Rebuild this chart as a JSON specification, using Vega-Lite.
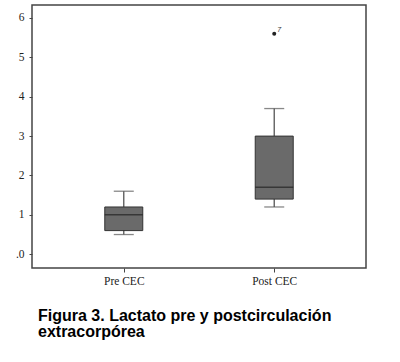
{
  "$schema": "https://vega.github.io/schema/vega-lite/v6.json",
  "width": 334,
  "height": 263,
  "autosize": "none",
  "padding": {"left": 32, "top": 5, "right": 34, "bottom": 94},
  "background": "white",
  "config": {
    "view": {"stroke": "#444444", "strokeWidth": 1.5},
    "axis": {"labelFont": "Liberation Serif", "labelFontSize": 11.5, "labelColor": "#222222", "tickColor": "#444444", "domain": false, "grid": false, "title": null}
  },
  "title": {
    "text": ["Figura 3. Lactato pre y postcirculación", "extracorpórea"],
    "orient": "bottom",
    "anchor": "start",
    "frame": "group",
    "font": "Liberation Sans",
    "fontSize": 16,
    "fontWeight": "bold",
    "color": "#000000",
    "offset": 21,
    "dx": 6,
    "lineHeight": 16
  },
  "datasets": {
    "boxes": [
      {"grupo": "Pre CEC", "lower": 0.5, "q1": 0.6, "median": 1.0, "q3": 1.2, "upper": 1.6},
      {"grupo": "Post CEC", "lower": 1.2, "q1": 1.4, "median": 1.7, "q3": 3.0, "upper": 3.7}
    ],
    "outliers": [
      {"grupo": "Post CEC", "value": 5.6, "label": "7"}
    ]
  },
  "encoding": {
    "x": {
      "field": "grupo", "type": "nominal", "sort": ["Pre CEC", "Post CEC"],
      "scale": {"type": "point", "padding": 0.61},
      "axis": {"labelAngle": 0, "tickSize": 4, "labelPadding": 3}
    }
  },
  "layer": [
    {
      "data": {"name": "boxes"},
      "mark": {"type": "rule", "color": "#555555", "strokeWidth": 1.3},
      "encoding": {
        "y": {"field": "lower", "type": "quantitative",
          "scale": {"domain": [-0.35, 6.33], "nice": false, "zero": false},
          "axis": {"values": [0, 1, 2, 3, 4, 5, 6], "labelExpr": "datum.value == 0 ? '.0' : datum.label", "tickSize": 3, "labelPadding": 5}},
        "y2": {"field": "upper"}
      }
    },
    {
      "data": {"name": "boxes"},
      "mark": {"type": "tick", "color": "#555555", "size": 20, "thickness": 1.3},
      "encoding": {"y": {"field": "lower", "type": "quantitative"}}
    },
    {
      "data": {"name": "boxes"},
      "mark": {"type": "tick", "color": "#555555", "size": 20, "thickness": 1.3},
      "encoding": {"y": {"field": "upper", "type": "quantitative"}}
    },
    {
      "data": {"name": "boxes"},
      "mark": {"type": "bar", "size": 38, "fill": "#6a6a6a", "stroke": "#333333", "strokeWidth": 1},
      "encoding": {
        "y": {"field": "q1", "type": "quantitative"},
        "y2": {"field": "q3"}
      }
    },
    {
      "data": {"name": "boxes"},
      "mark": {"type": "tick", "color": "#222222", "size": 38, "thickness": 1.5},
      "encoding": {"y": {"field": "median", "type": "quantitative"}}
    },
    {
      "data": {"name": "outliers"},
      "mark": {"type": "point", "filled": true, "color": "#222222", "size": 16, "opacity": 1},
      "encoding": {"y": {"field": "value", "type": "quantitative"}}
    },
    {
      "data": {"name": "outliers"},
      "mark": {"type": "text", "dx": 5, "dy": -4, "fontSize": 7, "fontStyle": "italic", "font": "Liberation Sans", "color": "#333333", "align": "center"},
      "encoding": {"y": {"field": "value", "type": "quantitative"}, "text": {"field": "label"}}
    }
  ]
}
